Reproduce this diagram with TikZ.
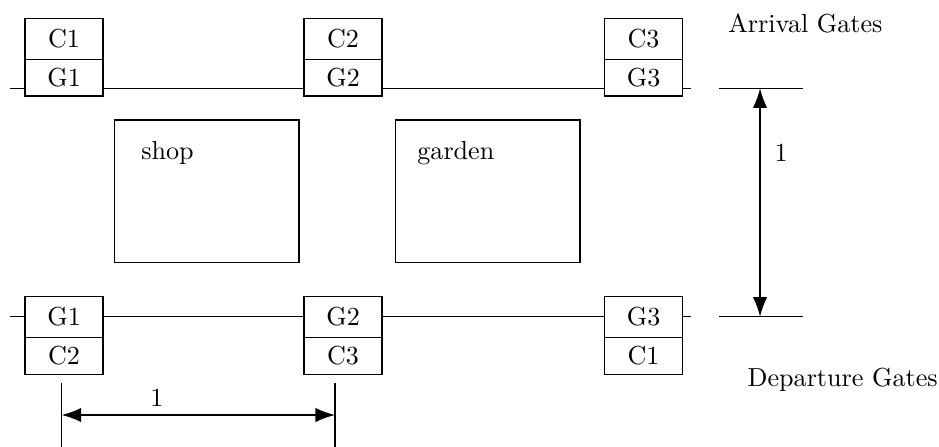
\documentclass[tikz,border=0pt]{standalone}
\usetikzlibrary{positioning,arrows.meta}

\tikzset{
  upcell/.style={draw, minimum width=1.051cm, minimum height=0.552cm, inner sep=0pt, outer sep=0pt},
  lowcell/.style={draw, minimum width=1.051cm, minimum height=0.497cm, inner sep=0pt, outer sep=0pt},
  dimarrow/.style={{Latex[length=7.5pt,width=5.5pt]}-{Latex[length=7.5pt,width=5.5pt]}}
}

\begin{document}
\begin{tikzpicture}[line width=0.55pt]

	\useasboundingbox (0,0) rectangle (12.655,6.024);

	% Arrival gates
	\node[upcell] (arrC1) at (0.863,5.501) {C1};
	\node[lowcell, below=0pt of arrC1] (arrG1) {G1};
	\node[upcell] (arrC2) at (4.623,5.501) {C2};
	\node[lowcell, below=0pt of arrC2] (arrG2) {G2};
	\node[upcell] (arrC3) at (8.673,5.501) {C3};
	\node[lowcell, below=0pt of arrC3] (arrG3) {G3};

	\coordinate (arrL) at (0.135,4.834);
	\coordinate (arrR) at (9.313,4.834);
	\draw (arrL) -- (arrL -| arrG1.west);
	\draw (arrL -| arrG1.east) -- (arrL -| arrG2.west);
	\draw (arrL -| arrG2.east) -- (arrL -| arrG3.west);
	\draw (arrL -| arrG3.east) -- (arrR);

	% Departure gates
	\node[upcell] (depG1) at (0.863,1.752) {G1};
	\node[lowcell, below=0pt of depG1] (depC2) {C2};
	\node[upcell] (depG2) at (4.623,1.752) {G2};
	\node[lowcell, below=0pt of depG2] (depC3) {C3};
	\node[upcell] (depG3) at (8.673,1.752) {G3};
	\node[lowcell, below=0pt of depG3] (depC1) {C1};

	\coordinate (depL) at (0.135,1.756);
	\coordinate (depR) at (9.313,1.756);
	\draw (depL) -- (depL -| depG1.west);
	\draw (depL -| depG1.east) -- (depL -| depG2.west);
	\draw (depL -| depG2.east) -- (depL -| depG3.west);
	\draw (depL -| depG3.east) -- (depR);

	% Shop and garden
	\draw (1.540,2.489) rectangle (4.030,4.407);
	\node[anchor=west] (shop) at (1.779,3.956) {shop};
	\draw (5.333,2.489) rectangle (7.817,4.407);
	\node[anchor=west] (garden) at (5.499,3.956) {garden};

	% Distance between the levels
	\coordinate (arrMarkL) at (9.690,4.834);
	\coordinate (arrMarkR) at (10.822,4.834);
	\coordinate (depMarkL) at (9.690,1.756);
	\coordinate (depMarkR) at (10.822,1.756);
	\draw (arrMarkL) -- (arrMarkR);
	\draw (depMarkL) -- (depMarkR);
	\coordinate (arrTip) at (10.243,4.834);
	\coordinate (depTip) at (10.243,1.756);
	\draw[dimarrow] (arrTip) -- (depTip);
	\node (levelDist) at (10.527,3.958) {1};

	\node[anchor=west] (arrText) at (9.690,5.714) {Arrival Gates};
	\node[anchor=west] (depText) at (9.950,0.910) {Departure Gates};

	% Distance between two gates
	\coordinate (dimA) at (0.831,0.863);
	\coordinate (dimB) at (4.515,0.863);
	\draw (dimA) -- (dimA |- 0,0);
	\draw (dimB) -- (dimB |- 0,0);
	\draw[dimarrow] (dimA |- 0,0.431) -- (dimB |- 0,0.431);
	\node (gateDist) at (2.116,0.660) {1};

\end{tikzpicture}
\end{document}
